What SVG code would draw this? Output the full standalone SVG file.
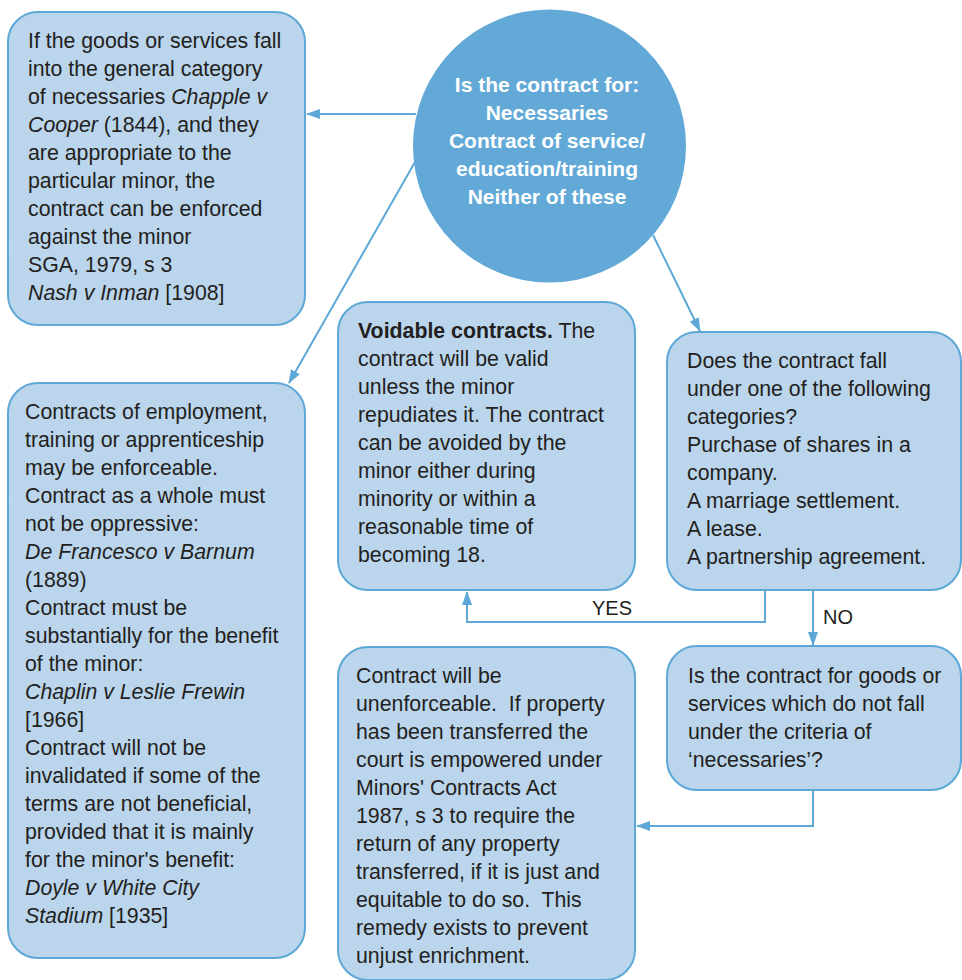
<svg xmlns="http://www.w3.org/2000/svg" width="962" height="980" viewBox="0 0 962 980">
  <style>
    .box { fill: #BAD5EC; stroke: #5DA8D7; stroke-width: 2; }
    .hub { fill: #62A9D7; }
    .txt { font-family: "Liberation Sans", Arial, sans-serif; font-size: 21.3px; fill: #231F20; white-space: pre; }
    .hubtxt { font-family: "Liberation Sans", Arial, sans-serif; font-size: 21px; font-weight: bold; fill: #FFFFFF; text-anchor: middle; }
    .lbl { font-family: "Liberation Sans", Arial, sans-serif; font-size: 20px; fill: #231F20; }
    .con { fill: none; stroke: #5DA8D7; stroke-width: 2; }
    .it { font-style: italic; }
    .b { font-weight: bold; }
  </style>
  <defs>
    <marker id="arrow" viewBox="0 0 14 10" refX="13" refY="5" markerWidth="14" markerHeight="10" markerUnits="userSpaceOnUse" orient="auto">
      <path d="M0,0 L14,5 L0,10 Z" fill="#5DA8D7"/>
    </marker>
  </defs>

  <!-- connectors -->
  <g id="connectors">
    <path class="con" d="M416,114 L307,114" marker-end="url(#arrow)"/>
    <path class="con" d="M415,162 L289,383" marker-end="url(#arrow)"/>
    <path class="con" d="M653,235 L700,331" marker-end="url(#arrow)"/>
    <path class="con" d="M765,590 L765,622 L467,622 L467,592" marker-end="url(#arrow)"/>
    <path class="con" d="M813,590 L813,645" marker-end="url(#arrow)"/>
    <path class="con" d="M813,790 L813,826 L637,826" marker-end="url(#arrow)"/>
    <text class="lbl" x="612" y="615" text-anchor="middle">YES</text>
    <text class="lbl" x="823" y="624">NO</text>
  </g>

  <!-- central question -->
  <g id="question">
    <circle class="hub" cx="549.5" cy="146" r="136.5"/>
    <text class="hubtxt" x="547" y="92">Is the contract for:</text>
    <text class="hubtxt" x="547" y="120">Necessaries</text>
    <text class="hubtxt" x="547" y="148">Contract of service/</text>
    <text class="hubtxt" x="547" y="176">education/training</text>
    <text class="hubtxt" x="547" y="204">Neither of these</text>
  </g>

  <!-- necessaries -->
  <g id="necessaries">
    <rect class="box" x="8" y="12" width="297" height="313" rx="30" ry="30"/>
    <text class="txt" x="28" y="48">If the goods or services fall</text>
    <text class="txt" x="28" y="76">into the general category</text>
    <text class="txt" x="28" y="104">of necessaries <tspan class="it">Chapple v</tspan></text>
    <text class="txt" x="28" y="132"><tspan class="it">Cooper</tspan> (1844), and they</text>
    <text class="txt" x="28" y="160">are appropriate to the</text>
    <text class="txt" x="28" y="188">particular minor, the</text>
    <text class="txt" x="28" y="216">contract can be enforced</text>
    <text class="txt" x="28" y="244">against the minor</text>
    <text class="txt" x="28" y="272">SGA, 1979, s 3</text>
    <text class="txt" x="28" y="300"><tspan class="it">Nash v Inman</tspan> [1908]</text>
  </g>

  <!-- service / education / training -->
  <g id="service">
    <rect class="box" x="8" y="383" width="297" height="575" rx="30" ry="30"/>
    <text class="txt" x="25" y="419">Contracts of employment,</text>
    <text class="txt" x="25" y="447">training or apprenticeship</text>
    <text class="txt" x="25" y="475">may be enforceable.</text>
    <text class="txt" x="25" y="503">Contract as a whole must</text>
    <text class="txt" x="25" y="531">not be oppressive:</text>
    <text class="txt it" x="25" y="559">De Francesco v Barnum</text>
    <text class="txt" x="25" y="587">(1889)</text>
    <text class="txt" x="25" y="615">Contract must be</text>
    <text class="txt" x="25" y="643">substantially for the benefit</text>
    <text class="txt" x="25" y="671">of the minor:</text>
    <text class="txt it" x="25" y="699">Chaplin v Leslie Frewin</text>
    <text class="txt" x="25" y="727">[1966]</text>
    <text class="txt" x="25" y="755">Contract will not be</text>
    <text class="txt" x="25" y="783">invalidated if some of the</text>
    <text class="txt" x="25" y="811">terms are not beneficial,</text>
    <text class="txt" x="25" y="839">provided that it is mainly</text>
    <text class="txt" x="25" y="867">for the minor's benefit:</text>
    <text class="txt it" x="25" y="895">Doyle v White City</text>
    <text class="txt" x="25" y="923"><tspan class="it">Stadium</tspan> [1935]</text>
  </g>

  <!-- voidable -->
  <g id="voidable">
    <rect class="box" x="338" y="302" width="297" height="288" rx="30" ry="30"/>
    <text class="txt" x="358" y="338"><tspan class="b">Voidable contracts.</tspan> The</text>
    <text class="txt" x="358" y="366">contract will be valid</text>
    <text class="txt" x="358" y="394">unless the minor</text>
    <text class="txt" x="358" y="422">repudiates it. The contract</text>
    <text class="txt" x="358" y="450">can be avoided by the</text>
    <text class="txt" x="358" y="478">minor either during</text>
    <text class="txt" x="358" y="506">minority or within a</text>
    <text class="txt" x="358" y="534">reasonable time of</text>
    <text class="txt" x="358" y="562">becoming 18.</text>
  </g>

  <!-- categories -->
  <g id="categories">
    <rect class="box" x="667" y="332" width="294" height="258" rx="30" ry="30"/>
    <text class="txt" x="687" y="368">Does the contract fall</text>
    <text class="txt" x="687" y="396">under one of the following</text>
    <text class="txt" x="687" y="424">categories?</text>
    <text class="txt" x="687" y="452">Purchase of shares in a</text>
    <text class="txt" x="687" y="480">company.</text>
    <text class="txt" x="687" y="508">A marriage settlement.</text>
    <text class="txt" x="687" y="536">A lease.</text>
    <text class="txt" x="687" y="564">A partnership agreement.</text>
  </g>

  <!-- non-necessaries -->
  <g id="goods">
    <rect class="box" x="667" y="646" width="294" height="144" rx="30" ry="30"/>
    <text class="txt" x="688" y="683">Is the contract for goods or</text>
    <text class="txt" x="688" y="711">services which do not fall</text>
    <text class="txt" x="688" y="739">under the criteria of</text>
    <text class="txt" x="688" y="767">‘necessaries’?</text>
  </g>

  <!-- unenforceable -->
  <g id="unenforceable">
    <rect class="box" x="338" y="647" width="297" height="333" rx="30" ry="30"/>
    <text class="txt" x="356" y="683">Contract will be</text>
    <text class="txt" x="356" y="711">unenforceable.  If property</text>
    <text class="txt" x="356" y="739">has been transferred the</text>
    <text class="txt" x="356" y="767">court is empowered under</text>
    <text class="txt" x="356" y="795">Minors' Contracts Act</text>
    <text class="txt" x="356" y="823">1987, s 3 to require the</text>
    <text class="txt" x="356" y="851">return of any property</text>
    <text class="txt" x="356" y="879">transferred, if it is just and</text>
    <text class="txt" x="356" y="907">equitable to do so.  This</text>
    <text class="txt" x="356" y="935">remedy exists to prevent</text>
    <text class="txt" x="356" y="963">unjust enrichment.</text>
  </g>
</svg>
